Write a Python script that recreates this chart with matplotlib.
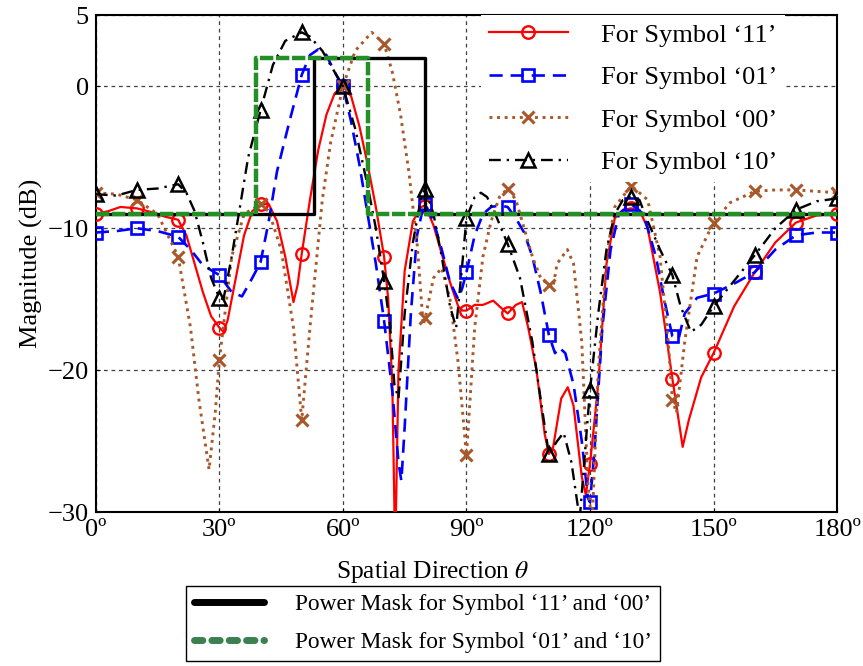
import numpy as np
import matplotlib
matplotlib.use("Agg")
from matplotlib import pyplot as plt
from matplotlib.lines import Line2D

# (theta in degrees, magnitude in dB)
theta_11 = [0, 3, 6, 10, 14, 17, 20, 22, 24, 26, 28, 30, 31, 32, 34, 36, 38, 40, 42, 44, 46, 48,
            49, 50, 52, 54, 56, 58, 60, 62, 64, 66, 68, 70, 71, 72, 72.7, 73.5, 75, 77, 79, 80,
            82, 84, 86, 88, 89, 90, 92, 94, 96.5, 98, 100, 102, 103.5, 105, 107, 109, 110, 111,
            113, 114.6, 116, 118, 119, 120, 122, 124, 126, 128, 130, 132, 134, 137, 140, 142.5,
            144, 147, 150, 155, 160, 165, 170, 175, 180]
db_11 = [-9.0, -8.8, -8.5, -8.6, -8.9, -9.2, -9.4, -10.5, -12.5, -14.5, -16.2, -17.0, -17.3, -16.5,
         -13.5, -10.5, -8.8, -8.3, -8.3, -9.5, -12.0, -15.2, -14.0, -11.8, -8.0, -4.5, -2.0, -0.5,
         0.0, -0.7, -2.8, -5.5, -8.5, -12.0, -15.0, -21.0, -33.0, -20.0, -13.0, -9.5, -8.5, -8.4,
         -9.8, -11.8, -13.8, -15.5, -15.8, -15.8, -15.4, -15.4, -15.1, -15.5, -16.0, -15.4, -15.2,
         -17.0, -20.0, -24.5, -25.9, -25.5, -22.0, -21.2, -22.5, -27.5, -28.8, -26.6, -21.0, -12.5,
         -9.3, -8.7, -8.6, -8.7, -10.0, -14.5, -20.6, -25.4, -23.5, -20.5, -18.8, -15.5, -13.1,
         -11.0, -9.6, -9.1, -9.0]

theta_01 = [0, 5, 10, 15, 20, 23, 26, 30, 33, 35.5, 38, 40, 42, 44, 47, 50, 52, 54, 56, 58, 60,
            62, 64, 66, 68, 70, 72, 73.5, 74.2, 75, 76.5, 78, 79.5, 80, 82, 84, 86, 88, 89, 90,
            92, 94, 96, 98, 100, 102, 104, 106, 108, 110, 111.5, 112.5, 114, 116, 118, 119.5, 120,
            121, 123, 125, 127, 130, 133, 136, 138, 140, 141.5, 143, 146, 150, 155, 160, 165, 170,
            175, 180]
db_01 = [-10.3, -10.2, -10.0, -10.2, -10.6, -11.5, -12.6, -13.3, -14.5, -14.8, -13.5, -12.4, -9.5,
         -6.0, -2.5, 0.8, 2.2, 2.6, 2.2, 1.0, 0.0, -2.5, -5.5, -9.0, -12.5, -16.5, -21.5, -26.5,
         -27.8, -24.0, -16.0, -10.5, -8.5, -8.3, -9.5, -11.5, -13.8, -15.0, -14.2, -13.1, -10.5,
         -9.0, -8.5, -8.4, -8.5, -9.3, -10.3, -12.0, -14.5, -17.5, -18.8, -18.4, -18.8, -21.0,
         -25.0, -29.0, -29.3, -26.0, -17.0, -11.5, -9.0, -8.3, -9.0, -12.0, -15.0, -17.6, -17.8,
         -16.0, -14.9, -14.6, -13.9, -13.1, -11.5, -10.5, -10.3, -10.3]

theta_00 = [0, 5, 10, 15, 20, 23, 25, 27.5, 29, 30, 33, 36, 40, 42, 45, 48, 50, 52, 55, 57, 60,
            63, 67, 70, 72, 74, 76, 78, 79.5, 80, 82, 84, 86, 88, 90, 92, 94, 96, 98, 100, 102,
            104, 106, 108, 110, 111, 112, 114.5, 116, 118, 119.5, 120.5, 122, 124, 126, 130, 134,
            137, 139, 140, 141, 143, 146, 150, 154, 160, 165, 170, 175, 180]
db_00 = [-7.5, -7.6, -8.0, -9.0, -12.0, -17.0, -22.0, -27.0, -23.0, -19.3, -12.0, -9.0, -8.3, -8.8,
         -11.5, -17.0, -23.5, -17.0, -8.0, -4.0, 0.0, 2.5, 3.8, 3.0, 1.0, -2.0, -6.0, -11.0, -16.8,
         -16.3, -13.5, -12.8, -15.0, -19.5, -26.0, -17.0, -12.0, -9.5, -7.8, -7.2, -8.0, -10.0,
         -12.0, -13.5, -14.0, -14.2, -12.5, -11.5, -12.5, -18.0, -28.0, -31.0, -20.0, -12.0, -8.5,
         -7.0, -8.0, -12.0, -18.0, -22.1, -23.0, -18.0, -12.0, -9.6, -8.2, -7.4, -7.3, -7.3, -7.4,
         -7.5]

theta_10 = [0, 5, 10, 15, 20, 22, 24, 26, 28, 30, 31, 33, 35, 37, 40, 43, 46, 50, 52, 55, 58, 60,
            63, 66, 68, 70, 71.5, 72.5, 73.5, 75, 77, 79, 80, 82, 84, 86, 87.5, 89, 90, 92, 93.5,
            95, 97, 100, 103, 106, 108, 110, 112, 113.6, 115.5, 117.5, 119, 120, 122, 124, 126,
            128, 130, 132, 134, 137, 140, 142, 144.5, 147, 150, 155, 160, 165, 170, 175, 180]
db_10 = [-7.6, -7.7, -7.3, -7.2, -6.9, -7.5, -8.8, -11.0, -13.5, -14.9, -15.0, -12.0, -8.5, -5.0,
         -1.7, 1.5, 3.2, 3.8, 3.5, 2.5, 1.0, 0.0, -3.0, -7.0, -10.0, -13.7, -17.0, -21.0, -22.0,
         -16.0, -11.0, -7.8, -7.2, -9.0, -12.0, -15.5, -17.0, -12.5, -9.3, -7.8, -7.5, -7.8, -9.0,
         -11.1, -13.5, -18.0, -22.0, -25.9, -25.0, -24.4, -26.5, -30.5, -25.0, -21.4, -16.0, -11.5,
         -9.0, -8.0, -7.8, -8.0, -9.5, -11.5, -13.3, -15.5, -17.3, -16.8, -15.5, -13.7, -11.9,
         -10.0, -8.7, -8.1, -7.9]

# power masks
mask_a_theta = [0, 53, 53, 80, 80, 180]
mask_a_db = [-9, -9, 2, 2, -9, -9]
mask_b_theta = [0, 39, 39, 66, 66, 180]
mask_b_db = [-9, -9, 2, 2, -9, -9]

labels = ["For Symbol \u201811\u2019", "For Symbol \u201801\u2019",
          "For Symbol \u201800\u2019", "For Symbol \u201810\u2019"]
mask_labels = ["Power Mask for Symbol \u201811\u2019 and \u201800\u2019",
               "Power Mask for Symbol \u201801\u2019 and \u201810\u2019"]
xticks = [0, 30, 60, 90, 120, 150, 180]
yticks = [-30, -20, -10, 0, 5]


def marks_at_tens(theta):
    # markers only sit on multiples of 10 degrees
    return [i for i, t in enumerate(theta) if float(t) % 10 == 0]


def main():
    plt.rcParams["font.family"] = ["Liberation Serif", "DejaVu Serif"]
    plt.rcParams["mathtext.fontset"] = "stix"

    fig = plt.figure(figsize=(8.63, 6.66), dpi=100)
    ax = fig.add_axes([0.111, 0.231, 0.859, 0.746])

    brown = "#a8582a"
    green = "#239023"

    ax.plot(theta_11, db_11, color="red", lw=1.6, marker="o", ms=9, mfc="none", mew=1.7,
            markevery=marks_at_tens(theta_11), label=labels[0], zorder=3)
    ax.plot(theta_01, db_01, color="#0000ff", lw=1.9, ls=(0, (5, 3)), marker="s", ms=9,
            mfc="none", mew=1.9, markevery=marks_at_tens(theta_01), label=labels[1], zorder=3)
    ax.plot(theta_00, db_00, color=brown, lw=2.1, ls=(0, (1, 1.6)), marker="x", ms=8.5, mew=2.2,
            markevery=marks_at_tens(theta_00), label=labels[2], zorder=3)
    ax.plot(theta_10, db_10, color="black", lw=1.7, ls=(0, (5, 2.5, 1, 2.5)), marker="^", ms=10,
            mfc="none", mew=1.8, markevery=marks_at_tens(theta_10), label=labels[3], zorder=3)

    # masks drawn over the curves
    ax.plot(mask_a_theta, mask_a_db, color="black", lw=2.4, zorder=4)
    ax.plot(mask_b_theta, mask_b_db, color=green, lw=3.2, ls=(0, (3, 0.6)), zorder=5)

    ax.set_xlim(0, 180)
    ax.set_ylim(-30, 5)
    ax.set_xticks(xticks)
    ax.set_xticklabels(["%d\u00ba" % t for t in xticks])
    ax.set_yticks(yticks)
    ax.tick_params(direction="in", length=3, labelsize=19, pad=5)
    ax.grid(True, color="0.25", ls=(0, (3, 3)), lw=0.9)
    for s in ax.spines.values():
        s.set_linewidth(1.5)

    ax.set_xlabel(r"Spatial Direction $\theta$", fontsize=18.3)
    ax.xaxis.set_label_coords(0.455, -0.095)
    ax.set_ylabel("Magnitude (dB)", fontsize=19, labelpad=3)

    leg = ax.legend(loc="upper right", bbox_to_anchor=(0.93, 1.0), borderaxespad=0,
                    fontsize=19, handlelength=3.0, handletextpad=1.25, labelspacing=0.72,
                    numpoints=1, framealpha=1, fancybox=False, edgecolor="none",
                    borderpad=0.3)
    leg.set_zorder(10)

    handles = [Line2D([], [], color="black", lw=5, solid_capstyle="round"),
               Line2D([], [], color="#3a8050", lw=5, ls=(0, (1.2, 1.3)), dash_capstyle="round")]
    fig.legend(handles, mask_labels, loc="center", bbox_to_anchor=(0.49, 0.064), fontsize=16.8,
               handlelength=3.0, handletextpad=1.3, labelspacing=0.7, fancybox=False,
               edgecolor="black", framealpha=1, borderpad=0.35)

    fig.savefig("out.png", dpi=100)


if __name__ == "__main__":
    main()
